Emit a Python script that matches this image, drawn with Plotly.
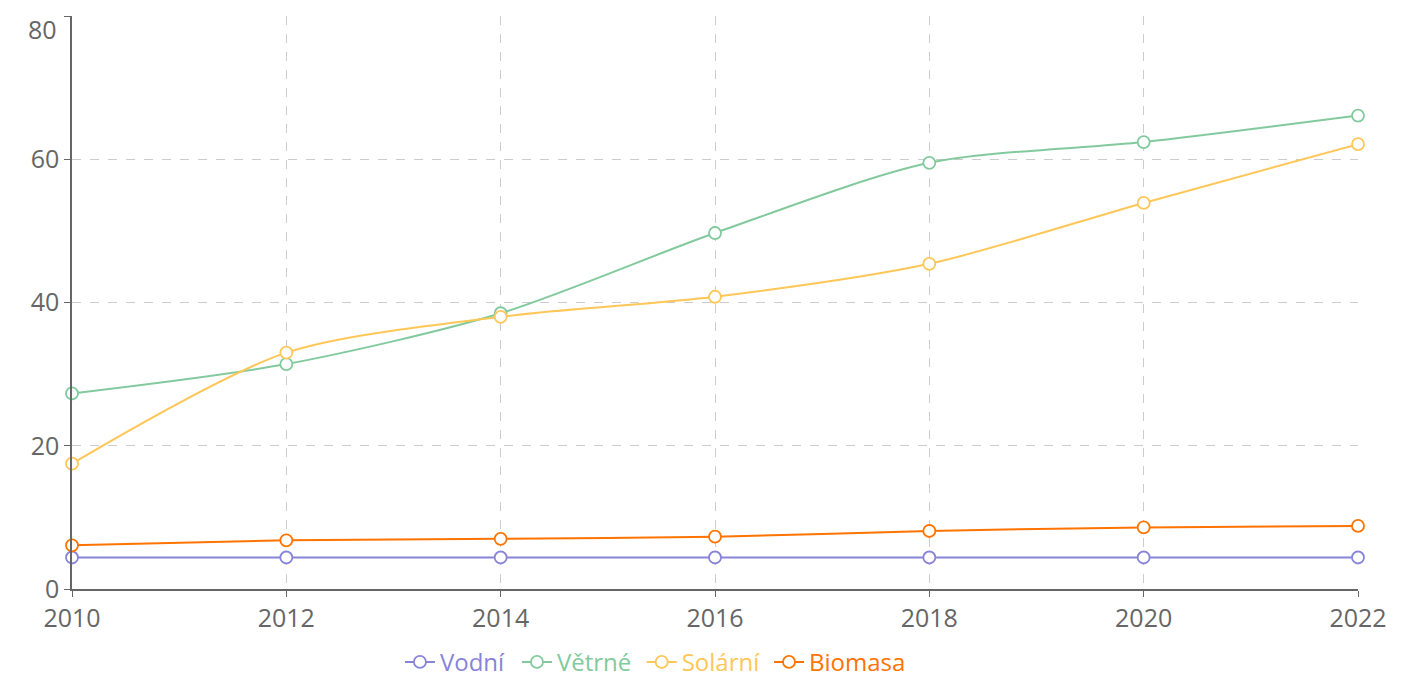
import plotly.graph_objects as go

years = [2010, 2012, 2014, 2016, 2018, 2020, 2022]
vodni = [4.4, 4.4, 4.4, 4.4, 4.4, 4.4, 4.4]
vetrne = [27.3, 31.4, 38.5, 49.7, 59.5, 62.4, 66.1]
solarni = [17.5, 33.0, 38.0, 40.8, 45.4, 53.9, 62.1]
biomasa = [6.1, 6.8, 7.0, 7.3, 8.1, 8.6, 8.8]
y_ticks = [0, 20, 40, 60, 80]

series = [
    ("Vodní", vodni, "#8884d8"),
    ("Větrné", vetrne, "#82ca9d"),
    ("Solární", solarni, "#ffc658"),
    ("Biomasa", biomasa, "#ff7300"),
]
legend_x = [0.255, 0.346, 0.443, 0.542]

FONT = "Open Sans, Noto Sans, sans-serif"
fig = go.Figure()
legends = {}
for i, (name, vals, color) in enumerate(series):
    lg = "legend" if i == 0 else f"legend{i+1}"
    fig.add_trace(go.Scatter(
        x=years, y=vals, name=name, mode="lines+markers",
        line=dict(color=color, width=2, shape="spline", smoothing=0.8),
        marker=dict(size=12, color="white", line=dict(color=color, width=1.8)),
        cliponaxis=False, legend=lg,
    ))
    legends[lg] = dict(orientation="h", x=legend_x[i], xanchor="left", y=-0.128,
                       yanchor="middle", font=dict(family=FONT, size=24, color=color),
                       itemwidth=30, bgcolor="rgba(0,0,0,0)")

axis_font = dict(family=FONT, size=25, color="#666")
# top tick label drawn as annotation, nudged down as in the reference
y_ticktext = [str(v) if v != y_ticks[-1] else "" for v in y_ticks]
fig.add_annotation(x=0, xref="paper", y=y_ticks[-1], yref="y", text=str(y_ticks[-1]),
                   showarrow=False, xanchor="right", yanchor="top", xshift=-13, yshift=6,
                   font=axis_font)

fig.update_layout(
    width=1418, height=681,
    margin=dict(l=72, r=60, t=16, b=92, autoexpand=False),
    paper_bgcolor="white", plot_bgcolor="white",
    font=axis_font,
    showlegend=True,
    xaxis=dict(range=[2010, 2022], tickvals=years, ticktext=[str(y) for y in years],
               showline=True, linecolor="#666", linewidth=1.5,
               ticks="outside", ticklen=6, tickcolor="#666",
               showgrid=True, gridcolor="#ccc", griddash="dash", gridwidth=1,
               zeroline=False, tickfont=axis_font, automargin=False,
               ticklabeloverflow="allow"),
    yaxis=dict(range=[0, 80], tickvals=y_ticks, ticktext=y_ticktext,
               showline=True, linecolor="#666", linewidth=1.5,
               ticks="outside", ticklen=6, tickcolor="#666",
               showgrid=True, gridcolor="#ccc", griddash="dash", gridwidth=1,
               zeroline=False, tickfont=axis_font, automargin=False,
               ticklabeloverflow="allow"),
    **legends,
)

fig.write_html("out.html", config={"displayModeBar": False},
               post_script="document.body.style.margin='0';document.body.style.overflow='hidden';")
